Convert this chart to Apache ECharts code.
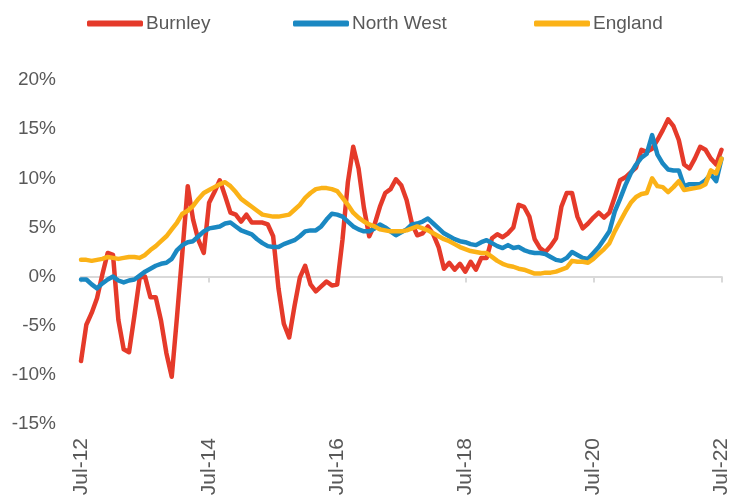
<!DOCTYPE html>
<html>
<head>
<meta charset="utf-8">
<script src="https://cdn.jsdelivr.net/npm/echarts@6/dist/echarts.min.js"></script>
<style>
  html, body { margin: 0; padding: 0; background: #fff; }
  #chart { width: 732px; height: 499px; }
</style>
</head>
<body>
<div id="chart"></div>
<script>
// monthly, Jul-12 .. Jul-22 (annual % change)
const monthNames = ['Jan', 'Feb', 'Mar', 'Apr', 'May', 'Jun', 'Jul', 'Aug', 'Sep', 'Oct', 'Nov', 'Dec'];
const startYear = 2012;
const startMonth = 6; // Jul

const burnley = [
  -8.6, -4.9, -3.7, -2.2, 0.2, 2.4, 2.2, -4.4, -7.4, -7.7, -4.0, -0.1,
  0.0, -2.1, -2.1, -4.5, -7.8, -10.2, -4.0, 2.5, 9.2, 5.8, 3.7, 2.4,
  7.5, 8.6, 9.8, 8.2, 6.5, 6.3, 5.6, 6.3, 5.5, 5.5, 5.5, 5.3,
  4.1, -1.2, -4.8, -6.2, -3.0, -0.1, 1.1, -0.8, -1.5, -1.0, -0.5, -0.9,
  -0.8, 3.8, 9.6, 13.2, 11.0, 7.0, 4.1, 5.3, 7.1, 8.5, 8.9, 9.9,
  9.3, 7.8, 5.4, 4.2, 4.4, 5.1, 4.3, 3.0, 0.8, 1.4, 0.7, 1.3,
  0.5, 1.5, 0.7, 1.9, 1.9, 3.9, 4.3, 4.0, 4.4, 5.0, 7.3, 7.1,
  6.1, 3.8, 2.9, 2.5, 3.1, 3.9, 7.1, 8.5, 8.5, 6.1, 4.9, 5.4,
  6.0, 6.5, 6.0, 6.5, 8.1, 9.8, 10.1, 10.6, 11.1, 12.9, 12.7, 13.0,
  13.9, 14.9, 16.0, 15.3, 13.9, 11.4, 11.0, 12.0, 13.2, 12.9, 12.0, 11.4,
  12.9
];

const northWest = [
  -0.3, -0.3, -0.8, -1.2, -0.7, -0.3, 0.0, -0.4, -0.6, -0.4, -0.3, 0.1,
  0.5, 0.8, 1.1, 1.3, 1.4, 1.8, 2.7, 3.2, 3.5, 3.6, 4.1, 4.6,
  4.9, 5.0, 5.1, 5.4, 5.5, 5.1, 4.7, 4.5, 4.3, 3.8, 3.4, 3.1,
  3.0, 3.0, 3.3, 3.5, 3.7, 4.1, 4.6, 4.7, 4.7, 5.1, 5.8, 6.4,
  6.3, 6.1, 5.6, 5.1, 4.8, 4.6, 4.6, 4.9, 5.3, 5.0, 4.6, 4.2,
  4.5, 4.8, 5.3, 5.4, 5.6, 5.9, 5.4, 4.9, 4.4, 4.1, 3.8, 3.6,
  3.5, 3.3, 3.2, 3.5, 3.7, 3.4, 3.1, 2.9, 3.2, 2.9, 3.0, 2.7,
  2.5, 2.4, 2.4, 2.3, 2.0, 1.7, 1.6, 1.9, 2.5, 2.2, 1.9, 1.8,
  2.4, 3.0, 3.8, 4.6, 6.6, 7.9, 9.3, 10.5, 11.4, 12.1, 12.5, 14.4,
  12.4, 11.5, 10.9, 10.8, 10.8, 9.2, 9.4, 9.4, 9.4, 9.8, 10.4, 9.7,
  12.0
];

const england = [
  1.7, 1.7, 1.6, 1.7, 1.8, 2.0, 1.9, 1.8, 1.9, 2.0, 2.0, 1.9,
  2.2, 2.7, 3.1, 3.6, 4.1, 4.8, 5.5, 6.4, 6.7, 7.2, 7.9, 8.5,
  8.8, 9.1, 9.4, 9.6, 9.2, 8.6, 7.9, 7.5, 7.1, 6.7, 6.3, 6.2,
  6.1, 6.1, 6.2, 6.3, 6.8, 7.3, 8.0, 8.5, 8.9, 9.0, 9.0, 8.9,
  8.7, 8.0, 7.3, 6.5, 6.0, 5.6, 5.3, 5.1, 4.8, 4.7, 4.6, 4.6,
  4.6, 4.7, 4.9, 5.1, 4.9, 4.7, 4.4, 4.1, 3.8, 3.6, 3.3, 3.0,
  2.8, 2.6, 2.5, 2.4, 2.4, 2.0, 1.6, 1.3, 1.1, 1.0, 0.8, 0.7,
  0.5, 0.3, 0.3, 0.4, 0.4, 0.5, 0.7, 0.9, 1.6, 1.5, 1.5, 1.4,
  1.8, 2.3, 2.8, 3.4, 4.6, 5.6, 6.6, 7.5, 8.1, 8.4, 8.5, 10.0,
  9.2, 9.1, 8.6, 9.1, 9.7, 8.8, 8.9, 9.0, 9.1, 9.4, 10.8, 10.5,
  12.0
];

const seriesNames = ['Burnley', 'North West', 'England'];
const seriesColors = ['#E53A2A', '#1A88C2', '#FBB217'];

// category labels like "Jul-12"
const categories = burnley.map((_, i) => {
  const m = startMonth + i;
  const yy = String((startYear + Math.floor(m / 12)) % 100).padStart(2, '0');
  return monthNames[m % 12] + '-' + yy;
});

const labelFont = 'Liberation Sans, Arial, sans-serif';
const textColor = '#595959';
const axisGray = '#D9D9D9';

const chart = echarts.init(document.getElementById('chart'));

const legendLefts = [87, 293, 534];

chart.setOption({
  animation: false,
  textStyle: { fontFamily: labelFont },
  legend: seriesNames.map((name, i) => ({
    data: [name],
    left: legendLefts[i],
    top: 14,
    padding: 0,
    icon: 'roundRect',
    itemWidth: 56,
    itemHeight: 6,
    itemGap: 4,
    textStyle: { fontSize: 19, color: textColor, fontFamily: labelFont, padding: [0, 0, 0, -2] }
  })),
  grid: {
    left: 81,
    right: 10,
    top: 80,
    bottom: 75,
    containLabel: false
  },
  xAxis: [
    {
      // labels along the bottom
      type: 'category',
      data: categories,
      boundaryGap: false,
      position: 'bottom',
      axisLine: { show: false, onZero: false },
      axisTick: { show: false },
      axisLabel: {
        interval: 23,
        rotate: 90,
        margin: 14,
        fontSize: 21,
        color: textColor,
        fontFamily: labelFont
      },
      splitLine: { show: false }
    },
    {
      // zero line with ticks
      type: 'category',
      data: categories,
      boundaryGap: false,
      position: 'top',
      axisLine: { show: true, onZero: true, lineStyle: { color: axisGray, width: 2 } },
      axisTick: { show: true, inside: true, interval: 23, length: 6, lineStyle: { color: axisGray, width: 2 } },
      axisLabel: { show: false },
      splitLine: { show: false }
    }
  ],
  yAxis: {
    type: 'value',
    min: -15,
    max: 20,
    interval: 5,
    axisLine: { show: false },
    axisTick: { show: false },
    splitLine: { show: false },
    axisLabel: {
      formatter: '{value}%',
      margin: 25,
      fontSize: 19,
      color: textColor,
      fontFamily: labelFont
    }
  },
  series: [burnley, northWest, england].map((d, i) => ({
    name: seriesNames[i],
    type: 'line',
    data: d,
    xAxisIndex: 0,
    showSymbol: false,
    symbol: 'none',
    color: seriesColors[i],
    lineStyle: { width: 4.5, color: seriesColors[i], cap: 'round', join: 'round' }
  }))
});
</script>
</body>
</html>
